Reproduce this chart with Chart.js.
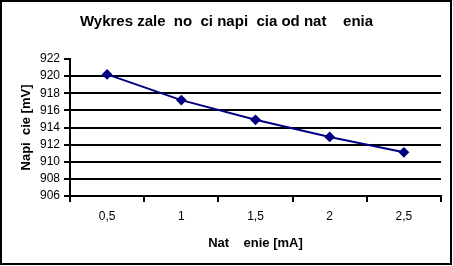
<!DOCTYPE html>
<html>
<head>
<meta charset="utf-8">
<script src="https://cdn.jsdelivr.net/npm/chart.js@4/dist/chart.umd.min.js"></script>
<style>
  html, body { margin: 0; padding: 0; background: #fff; }
  canvas { display: block; }
</style>
</head>
<body>
<canvas id="myChart" width="453" height="266"></canvas>
<script>
// values
var categories = ['0,5', '1', '1,5', '2', '2,5'];
var voltage = [920.2, 917.2, 914.9, 912.9, 911.1];
var yMin = 906;
var yMax = 922;
var yStep = 2;

var chartTitle = 'Wykres zale  no  ci napi  cia od nat    enia';
var xTitle = 'Nat    enie [mA]';
var yTitle = 'Napi  cie [mV]';

var fontFamily = '"Liberation Sans", Arial, sans-serif';

// black frame round the whole picture
var framePlugin = {
	id: 'frame',
	afterDraw: function(chart) {
		var ctx = chart.ctx;
		ctx.save();
		ctx.strokeStyle = '#000';
		ctx.lineWidth = 2;
		ctx.strokeRect(1, 1, chart.width - 3, chart.height - 3);
		ctx.restore();
	}
};

var canvas = document.getElementById('myChart');

var chart = new Chart(canvas, {
	type: 'line',
	data: {
		labels: categories,
		datasets: [{
			data: voltage,
			borderColor: '#000080',
			backgroundColor: '#000080',
			borderWidth: 2,
			pointStyle: 'rectRot',
			pointRadius: 4,
			pointHoverRadius: 4,
			pointBackgroundColor: '#000080',
			pointBorderColor: '#000080',
			tension: 0,
			fill: false
		}]
	},
	options: {
		responsive: false,
		animation: false,
		layout: { padding: 0 },
		plugins: {
			legend: { display: false },
			tooltip: { enabled: false },
			title: {
				display: true,
				text: chartTitle,
				color: '#000',
				font: { family: fontFamily, size: 15, weight: 'bold' },
				padding: { top: 13, bottom: 28 }
			}
		},
		scales: {
			x: {
				type: 'category',
				offset: true,
				grid: {
					offset: true,
					drawOnChartArea: false,
					drawTicks: true,
					tickLength: 6,
					tickColor: '#000',
					lineWidth: 2
				},
				border: { color: '#000', width: 2 },
				ticks: {
					color: '#000',
					padding: 7,
					maxRotation: 0,
					autoSkip: false,
					font: { family: fontFamily, size: 12 }
				},
				title: {
					display: true,
					text: xTitle,
					color: '#000',
					font: { family: fontFamily, size: 13, weight: 'bold' },
					padding: { top: 0, bottom: 15 }
				},
				afterFit: function(scale) { scale.height = 70; }
			},
			y: {
				min: yMin,
				max: yMax,
				grid: {
					color: function(ctx) {
						return ctx.tick && ctx.tick.value === yMax ? 'rgba(0,0,0,0)' : '#000';
					},
					tickColor: '#000',
					tickLength: 6,
					lineWidth: 2
				},
				border: { color: '#000', width: 2 },
				ticks: {
					stepSize: yStep,
					autoSkip: false,
					color: '#000',
					padding: 4,
					font: { family: fontFamily, size: 12 }
				},
				title: {
					display: true,
					text: yTitle,
					color: '#000',
					font: { family: fontFamily, size: 13, weight: 'bold' },
					padding: { top: 19, bottom: 0 }
				},
				afterFit: function(scale) { scale.width = 70; }
			},
			// empty strip on the right so the plot ends before the frame
			y2: {
				position: 'right',
				display: true,
				grid: { display: false },
				border: { display: false },
				ticks: { display: false },
				afterFit: function(scale) { scale.width = 12; }
			}
		}
	},
	plugins: [framePlugin]
});
</script>
</body>
</html>
